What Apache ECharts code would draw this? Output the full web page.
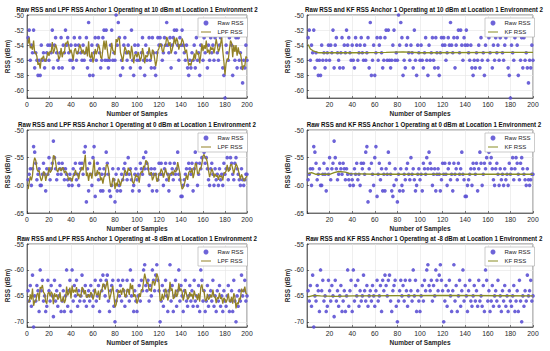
<!DOCTYPE html>
<html><head><meta charset="utf-8">
<script src="https://cdn.jsdelivr.net/npm/echarts@6/dist/echarts.min.js"></script>
<style>html,body{margin:0;padding:0;background:#fff}#c{width:550px;height:351px}</style>
</head><body><div id="c"></div>
<script>
// ---------- data ----------
const titles = [
  "Raw RSS and LPF RSS Anchor 1 Operating at 10 dBm at Location 1 Environment 2",
  "Raw RSS and KF RSS Anchor 1 Operating at 10 dBm at Location 1 Environment 2",
  "Raw RSS and LPF RSS Anchor 1 Operating at 0 dBm at Location 1 Environment 2",
  "Raw RSS and KF RSS Anchor 1 Operating at 0 dBm at Location 1 Environment 2",
  "Raw RSS and LPF RSS Anchor 1 Operating at -8 dBm at Location 1 Environment 2",
  "Raw RSS and KF RSS Anchor 1 Operating at -8 dBm at Location 1 Environment 2"
];
const xTicks = [0,20,40,60,80,100,120,140,160,180,200];
const yTicks10 = [-60,-58,-56,-54,-52,-50];
const yTicks0 = [-65,-60,-55,-50];
const yTicksM8 = [-70,-65,-60,-55];

const rawRss10 = [-53,-52,-56,-54,-55,-52,-57,-55,-56,-58,
-56,-58,-54,-56,-55,-57,-56,-55,-54,-56,
-54,-55,-52,-57,-54,-53,-55,-56,-57,-55,
-53,-57,-54,-55,-52,-54,-53,-55,-56,-54,
-56,-57,-53,-54,-56,-55,-54,-53,-55,-56,
-54,-56,-55,-53,-57,-51,-58,-56,-54,-58,
-55,-53,-56,-54,-53,-55,-57,-56,-53,-52,
-56,-52,-56,-57,-56,-54,-52,-56,-55,-56,
-50,-54,-51,-53,-58,-56,-57,-54,-53,-55,
-56,-54,-55,-57,-52,-56,-58,-54,-55,-56,
-54,-56,-57,-55,-53,-56,-58,-54,-56,-55,
-53,-56,-57,-53,-55,-57,-58,-55,-53,-54,
-53,-54,-56,-55,-53,-54,-51,-54,-55,-53,
-57,-54,-53,-52,-55,-52,-54,-56,-53,-54,
-52,-54,-55,-56,-54,-57,-58,-56,-57,-55,
-56,-54,-57,-53,-56,-55,-58,-54,-52,-56,
-53,-55,-52,-57,-54,-56,-53,-55,-54,-56,
-53,-52,-55,-56,-54,-53,-52,-57,-58,-61,
-54,-55,-56,-53,-52,-54,-58,-52,-56,-53,
-57,-53,-56,-55,-57,-59,-56,-57,-54,-56];

const lpf10 = [-53.8,-53.0,-54.4,-54.2,-54.6,-53.4,-55.0,-55.0,-55.5,-56.6,
-56.3,-57.1,-55.7,-55.8,-55.4,-56.1,-56.1,-55.6,-54.9,-55.4,
-54.8,-54.9,-53.6,-55.1,-54.6,-53.9,-54.4,-55.1,-55.9,-55.5,
-54.4,-55.6,-54.9,-55.0,-53.7,-53.8,-53.4,-54.1,-55.0,-54.6,
-55.2,-56.0,-54.7,-54.4,-55.1,-55.1,-54.6,-53.9,-54.4,-55.1,
-54.6,-55.2,-55.1,-54.2,-55.5,-53.5,-55.5,-55.7,-54.9,-56.3,
-55.7,-54.5,-55.2,-54.7,-53.9,-54.4,-55.6,-55.8,-54.5,-53.4,
-54.6,-53.4,-54.6,-55.7,-55.8,-55.0,-53.7,-54.7,-54.8,-55.3,
-53.2,-53.6,-53.0,-53.2,-55.0,-55.5,-56.2,-55.2,-54.2,-54.6,
-55.2,-54.7,-54.8,-55.8,-54.1,-55.0,-56.4,-55.3,-55.2,-55.6,
-54.9,-55.4,-56.1,-55.6,-54.4,-55.1,-56.4,-55.3,-55.6,-55.3,
-54.3,-55.1,-55.9,-54.6,-54.8,-55.8,-56.8,-56.0,-54.7,-54.4,
-53.8,-53.9,-54.8,-54.9,-54.0,-54.0,-52.9,-53.3,-54.1,-53.6,
-55.1,-54.6,-53.9,-53.0,-53.9,-53.0,-53.5,-54.6,-53.9,-54.0,
-53.1,-53.5,-54.2,-55.0,-54.6,-55.7,-56.7,-56.4,-56.7,-55.9,
-56.0,-55.1,-55.9,-54.6,-55.2,-55.1,-56.4,-55.3,-53.8,-54.8,
-54.0,-54.5,-53.4,-55.0,-54.6,-55.2,-54.2,-54.6,-54.3,-55.1,
-54.2,-53.2,-54.0,-54.9,-54.5,-53.8,-53.0,-54.8,-56.2,-57.9,
-56.4,-55.8,-55.9,-54.6,-53.4,-53.7,-55.6,-54.0,-54.9,-54.0,
-55.4,-54.3,-55.1,-55.1,-55.9,-57.3,-56.7,-56.8,-55.5,-55.7];

const kf10 = [[1,-53.9],[3,-54.5],[6,-54.8],[10,-55.0],[40,-55.0],[70,-54.95],[85,-54.9],[100,-55.0],[200,-54.95]];

const rawRss0 = [-59,-58,-57,-60,-57,-53,-54,-56,-59,-58,
-57,-60,-60,-58,-56,-58,-61,-57,-58,-55,
-59,-57,-56,-52,-55,-57,-59,-58,-56,-57,
-58,-56,-57,-59,-57,-58,-59,-60,-58,-59,
-60,-57,-58,-56,-59,-58,-60,-56,-57,-56,
-58,-54,-53,-63,-57,-61,-56,-58,-60,-55,
-53,-62,-58,-56,-59,-57,-61,-58,-61,-57,
-58,-54,-56,-58,-61,-62,-60,-57,-59,-63,
-58,-61,-57,-60,-61,-58,-59,-57,-56,-58,
-59,-55,-58,-57,-59,-61,-60,-58,-57,-59,
-58,-61,-56,-57,-58,-55,-57,-54,-56,-57,
-60,-58,-57,-61,-58,-57,-58,-61,-59,-56,
-58,-56,-58,-60,-57,-56,-59,-58,-61,-56,
-58,-57,-59,-56,-58,-57,-54,-58,-59,-62,
-62,-60,-59,-58,-57,-60,-56,-57,-58,-56,
-61,-57,-54,-56,-60,-58,-56,-57,-55,-53,
-54,-56,-55,-57,-59,-60,-57,-56,-58,-60,
-57,-59,-58,-60,-57,-59,-58,-60,-56,-58,
-57,-55,-59,-57,-55,-56,-58,-59,-56,-55,
-57,-58,-59,-60,-57,-59,-60,-59,-58,-58];

const lpf0 = [-60.7,-59.5,-58.4,-59.1,-58.2,-55.9,-55.0,-55.5,-57.1,-57.5,
-57.3,-58.5,-59.2,-58.7,-57.5,-57.7,-59.2,-58.2,-58.1,-56.7,
-57.7,-57.4,-56.8,-54.6,-54.8,-55.8,-57.2,-57.6,-56.9,-56.9,
-57.4,-56.8,-56.9,-57.8,-57.4,-57.7,-58.3,-59.1,-58.6,-58.8,
-59.3,-58.3,-58.2,-57.2,-58.0,-58.0,-58.9,-57.6,-57.3,-56.7,
-57.3,-55.8,-54.5,-58.3,-57.7,-59.2,-57.8,-57.9,-58.8,-57.1,
-55.3,-58.3,-58.2,-57.2,-58.0,-57.6,-59.1,-58.6,-59.7,-58.5,
-58.3,-56.4,-56.2,-57.0,-58.8,-60.2,-60.1,-58.7,-58.8,-60.7,
-59.5,-60.2,-58.8,-59.3,-60.1,-59.2,-59.1,-58.2,-57.2,-57.6,
-58.2,-56.8,-57.3,-57.2,-58.0,-59.4,-59.7,-58.9,-58.0,-58.5,
-58.3,-59.5,-57.9,-57.5,-57.7,-56.5,-56.7,-55.5,-55.7,-56.3,
-58.0,-58.0,-57.6,-59.1,-58.6,-57.9,-57.9,-59.3,-59.2,-57.8,
-57.9,-57.0,-57.5,-58.6,-57.9,-57.0,-57.9,-58.0,-59.4,-57.9,
-57.9,-57.5,-58.2,-57.2,-57.6,-57.3,-55.8,-56.8,-57.8,-59.7,
-60.7,-60.4,-59.8,-59.0,-58.1,-59.0,-57.7,-57.4,-57.7,-56.9,
-58.7,-57.9,-56.1,-56.1,-57.9,-57.9,-57.0,-57.0,-56.1,-54.7,
-54.4,-55.1,-55.1,-55.9,-57.3,-58.5,-57.8,-57.0,-57.5,-58.6,
-57.9,-58.4,-58.2,-59.0,-58.1,-58.5,-58.3,-59.1,-57.7,-57.8,
-57.4,-56.3,-57.5,-57.3,-56.3,-56.2,-57.0,-57.9,-57.0,-56.1,
-56.5,-57.2,-58.0,-58.9,-58.0,-58.5,-59.2,-59.1,-58.6,-58.3];

const kf0 = [[1,-57.9],[4,-57.7],[8,-58.0],[20,-58.0],[24,-57.7],[28,-57.5],[34,-57.6],[38,-57.9],[60,-58.0],[200,-58.0]];

const rawRssM8 = [-64,-66,-63,-67,-61,-71,-65,-66,-63,-64,
-68,-60,-64,-62,-66,-65,-68,-67,-62,-64,
-66,-63,-65,-69,-62,-66,-64,-67,-65,-63,
-68,-66,-64,-68,-65,-60,-67,-64,-62,-68,
-60,-66,-63,-65,-62,-67,-64,-66,-65,-61,
-64,-66,-63,-67,-65,-64,-66,-63,-65,-67,
-64,-62,-66,-65,-63,-68,-62,-64,-61,-63,
-65,-62,-61,-66,-68,-64,-63,-62,-67,-70,
-66,-64,-62,-65,-63,-66,-62,-64,-67,-65,
-62,-64,-66,-60,-65,-62,-68,-64,-66,-68,
-65,-63,-66,-62,-64,-60,-59,-63,-64,-62,
-66,-63,-65,-60,-62,-64,-61,-59,-62,-64,
-70,-66,-63,-67,-64,-62,-65,-68,-64,-59,
-66,-63,-68,-65,-62,-67,-64,-60,-66,-63,
-65,-68,-64,-62,-66,-67,-65,-63,-66,-64,
-67,-62,-66,-65,-67,-63,-68,-60,-62,-66,
-64,-68,-66,-63,-67,-65,-64,-66,-62,-67,
-65,-68,-64,-66,-63,-67,-65,-68,-64,-66,
-67,-65,-63,-68,-66,-64,-68,-62,-66,-70,
-65,-67,-64,-66,-61,-65,-64,-62,-66,-65];

const lpfM8 = [-66.2,-66.1,-64.7,-65.7,-63.6,-66.9,-66.0,-66.0,-64.7,-64.4,
-66.0,-63.3,-63.6,-62.9,-64.3,-64.6,-66.1,-66.5,-64.5,-64.3,
-65.1,-64.2,-64.6,-66.6,-64.5,-65.2,-64.7,-65.7,-65.4,-64.3,
-66.0,-66.0,-65.1,-66.4,-65.8,-63.2,-64.9,-64.5,-63.4,-65.5,
-63.0,-64.4,-63.8,-64.3,-63.3,-65.0,-64.6,-65.2,-65.1,-63.3,
-63.6,-64.7,-63.9,-65.3,-65.2,-64.7,-65.3,-64.3,-64.6,-65.7,
-64.9,-63.6,-64.7,-64.8,-64.0,-65.8,-64.1,-64.1,-62.7,-62.8,
-63.8,-63.0,-62.1,-63.9,-65.7,-64.9,-64.0,-63.1,-64.9,-67.2,
-66.7,-65.5,-63.9,-64.4,-63.8,-64.8,-63.5,-63.7,-65.2,-65.1,
-63.7,-63.8,-64.8,-62.6,-63.7,-62.9,-65.2,-64.7,-65.3,-66.5,
-65.8,-64.5,-65.2,-63.8,-63.9,-62.1,-60.7,-61.7,-62.7,-62.4,
-64.0,-63.6,-64.2,-62.3,-62.2,-63.0,-62.1,-60.7,-61.3,-62.5,
-65.9,-65.9,-64.6,-65.7,-64.9,-63.6,-64.2,-65.9,-65.0,-62.3,
-64.0,-63.6,-65.6,-65.3,-63.8,-65.2,-64.7,-62.6,-64.1,-63.6,
-64.2,-65.9,-65.0,-63.7,-64.7,-65.7,-65.4,-64.3,-65.1,-64.6,
-65.7,-64.0,-64.9,-64.9,-65.8,-64.5,-66.1,-63.4,-62.8,-64.2,
-64.1,-65.9,-65.9,-64.6,-65.7,-65.4,-64.8,-65.3,-63.8,-65.2,
-65.1,-66.4,-65.3,-65.6,-64.4,-65.6,-65.3,-66.5,-65.4,-65.7,
-66.3,-65.7,-64.5,-66.1,-66.1,-65.2,-66.5,-64.5,-65.2,-67.4,
-66.3,-66.6,-65.4,-65.7,-63.6,-64.2,-64.1,-63.2,-64.5,-64.7];

const kfM8 = [[1,-65.2],[6,-64.9],[12,-65.0],[25,-65.1],[40,-65.0],[120,-64.9],[200,-65.0]];

// ---------- layout / style ----------
const FONT = "'Liberation Sans',Arial,sans-serif";
const INK = '#262626';
const RAW_COLOR = '#5d52d4';
const LPF_COLOR = '#938226';
const KF_COLOR = '#8a8e24';
const LINE_ICON = 'path://M0,0h0.01v10h-0.01zM0,4.2h20v1.6h-20z';
const colLeft = [27, 307], colWidth = [220, 226];
const rowTop = [15, 130, 244], plotH = 83;

const panels = [
  {raw: rawRss10, filt: lpf10, fname: 'LPF RSS', fcol: LPF_COLOR, yMin: -61, yMax: -50, yTicks: yTicks10},
  {raw: rawRss10, filt: kf10, fname: 'KF RSS', fcol: KF_COLOR, yMin: -61, yMax: -50, yTicks: yTicks10},
  {raw: rawRss0, filt: lpf0, fname: 'LPF RSS', fcol: LPF_COLOR, yMin: -65, yMax: -50, yTicks: yTicks0},
  {raw: rawRss0, filt: kf0, fname: 'KF RSS', fcol: KF_COLOR, yMin: -65, yMax: -50, yTicks: yTicks0},
  {raw: rawRssM8, filt: lpfM8, fname: 'LPF RSS', fcol: LPF_COLOR, yMin: -71, yMax: -55, yTicks: yTicksM8},
  {raw: rawRssM8, filt: kfM8, fname: 'KF RSS', fcol: KF_COLOR, yMin: -71, yMax: -55, yTicks: yTicksM8}
];

const option = {
  backgroundColor: '#fff', animation: false,
  graphic: [], grid: [], xAxis: [], yAxis: [], legend: [], series: []
};

panels.forEach((p, i) => {
  const col = i % 2, row = Math.floor(i / 2);
  const L = colLeft[col], W = colWidth[col], T = rowTop[row];
  option.graphic.push({
    type: 'text', x: L + W / 2 + (col === 1 ? 4 : 0), y: T - 10, scaleX: 0.79, z: 10,
    style: {text: titles[i], font: "bold 7.8px 'Liberation Sans', Arial, sans-serif",
      fill: '#111', textAlign: 'center', textVerticalAlign: 'top'}
  });
  option.grid.push({left: L, top: T, width: W, height: plotH, show: true,
    borderColor: INK, borderWidth: 0.6, backgroundColor: '#fff', containLabel: false});
  option.xAxis.push({
    type: 'value', gridIndex: i, min: 0, max: 200, interval: 20,
    name: 'Number of Samples', nameLocation: 'middle', nameGap: 12,
    nameTextStyle: {fontFamily: FONT, fontSize: 6.5, fontWeight: 'bold', color: INK},
    axisLine: {show: true, lineStyle: {color: INK, width: 0.6}},
    axisTick: {show: true, inside: true, length: 2, lineStyle: {color: INK, width: 0.6}},
    axisLabel: {fontFamily: FONT, fontSize: 6.8, color: INK, margin: 3,
      formatter: v => (col === 1 && v === 0) ? '' : String(v)},
    splitLine: {show: true, lineStyle: {color: '#e4e4e4', width: 0.6}}
  });
  option.yAxis.push({
    type: 'value', gridIndex: i, min: p.yMin, max: p.yMax,
    splitNumber: row === 0 ? 5 : 3,
    name: 'RSS (dBm)', nameLocation: 'middle', nameGap: col === 0 ? 12 : 16,
    nameTextStyle: {fontFamily: FONT, fontSize: 6.4, fontWeight: 'bold', color: INK},
    axisLine: {show: true, lineStyle: {color: INK, width: 0.6}},
    axisTick: {show: true, inside: true, length: 2, customValues: p.yTicks, lineStyle: {color: INK, width: 0.6}},
    axisLabel: {fontFamily: FONT, fontSize: 6.5, color: INK, margin: 3, customValues: p.yTicks},
    splitLine: {show: true, lineStyle: {color: '#e4e4e4', width: 0.6}}
  });
  option.legend.push({
    orient: 'vertical', left: col === 0 ? 198 : 485, top: T + 3,
    data: [{name: 'Raw RSS', icon: 'circle'}, {name: p.fname, icon: LINE_ICON}], selectedMode: false,
    itemWidth: 13, itemHeight: 5, itemGap: 3, padding: [2, 4, 2, 3],
    backgroundColor: '#fff', borderColor: '#aaa', borderWidth: 0.6,
    textStyle: {fontFamily: FONT, fontSize: 6, color: INK}
  });
  option.series.push({
    type: 'scatter', name: 'Raw RSS', xAxisIndex: i, yAxisIndex: i,
    data: p.raw.map((v, k) => [k + 1, v]), symbol: 'circle', symbolSize: 3.6, clip: false,
    itemStyle: {color: RAW_COLOR, opacity: 0.9}, z: 2
  });
  option.series.push({
    type: 'line', name: p.fname, xAxisIndex: i, yAxisIndex: i,
    data: Array.isArray(p.filt[0]) ? p.filt : p.filt.map((v, k) => [k + 1, v]),
    symbol: 'none', showSymbol: false, lineStyle: {color: p.fcol, width: 1.3},
    itemStyle: {color: p.fcol}, z: 3
  });
});

const chart = echarts.init(document.getElementById('c'), null, {renderer: 'svg'});
chart.setOption(option);
</script>
</body></html>
